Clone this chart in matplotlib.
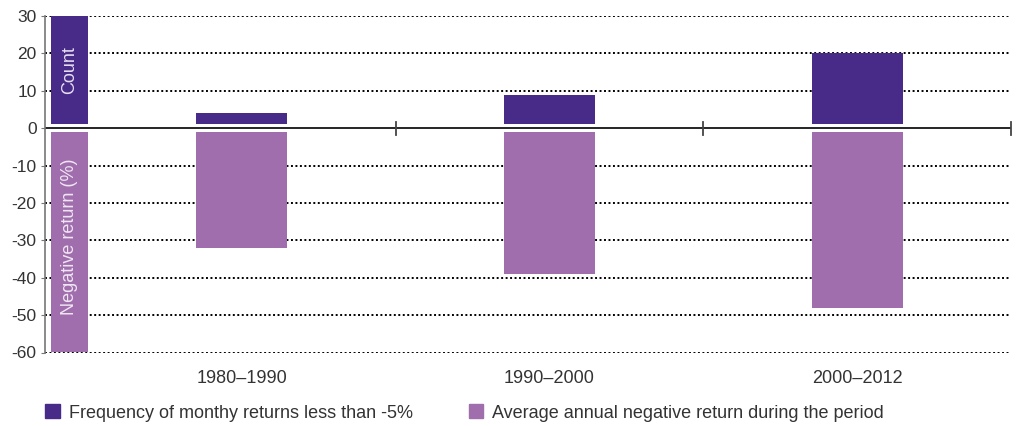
import matplotlib.pyplot as plt
from matplotlib.patches import Patch

periods = ['1980–1990', '1990–2000', '2000–2012']
count_values = [4, 9, 20]
neg_return_values = [-32, -39, -48]

dark = '#482a88'
light = '#a06dad'
txt = '#333333'

plt.rcParams['font.family'] = ['Liberation Sans', 'DejaVu Sans']
plt.rcParams['axes.unicode_minus'] = False

fig = plt.figure(figsize=(10.18, 4.26), dpi=100)
ax = fig.add_axes([45 / 1018, 1 - 352.5 / 426, (1011 - 45) / 1018, (352.5 - 16) / 426])

x = list(range(len(periods)))
gap = 1
# bars start a little off the zero line, as in the original
ax.bar(x, [v - gap for v in count_values], bottom=gap, width=0.295, color=dark, zorder=3)
ax.bar(x, [v + gap for v in neg_return_values], bottom=-gap, width=0.295, color=light, zorder=3)

# label bars on the left
lx = -0.5 - (88 - 69.5) / 308
ax.bar(lx, 30 - gap, bottom=gap, width=37 / 308, color=dark, zorder=3)
ax.bar(lx, -60 + gap, bottom=-gap, width=37 / 308, color=light, zorder=3)
ax.text(lx, 15.5, 'Count', rotation=90, ha='center', va='center',
        color='#e6def0', fontsize=13, zorder=4)
ax.text(lx, -29, 'Negative return (%)', rotation=90, ha='center', va='center',
        color='#efe6f2', fontsize=13, zorder=4)

ax.set_xlim(-0.5 - 43 / 308, 2.5)
ax.set_ylim(-60, 30)
ax.set_yticks(range(-60, 31, 10))
ax.tick_params(axis='y', length=3, color='#777777', labelsize=12.5, labelcolor=txt, pad=3)

for y in range(-60, 31, 10):
    if y != 0:
        ax.axhline(y, color='black', linestyle=(0, (1, 1.3)), linewidth=1.4, zorder=1)
ax.axhline(0, color='black', linewidth=1.2, zorder=2)

# separator ticks on the zero line
for sx in [0.5, 1.5, 2.5]:
    ax.plot([sx, sx], [-1.7, 1.7], color='#444444', linewidth=1.3, zorder=2, clip_on=False)

ax.set_xticks([])
for xi, p in zip(x, periods):
    ax.text(xi, -67, p, ha='center', va='center', fontsize=13, color=txt)

for s in ['top', 'right', 'bottom']:
    ax.spines[s].set_visible(False)
ax.spines['left'].set_color('#777777')
ax.spines['left'].set_linewidth(1.2)

handles = [Patch(color=dark, label='Frequency of monthy returns less than -5%'),
           Patch(color=light, label='Average annual negative return during the period')]
fig.legend(handles=handles, loc='center left', bbox_to_anchor=(29 / 1018, 1 - 413 / 426),
           ncol=2, frameon=False, fontsize=13, handlelength=0.8, handleheight=0.8,
           handletextpad=0.5, columnspacing=3.1, labelcolor=txt)

fig.savefig('out.png', dpi=100)
